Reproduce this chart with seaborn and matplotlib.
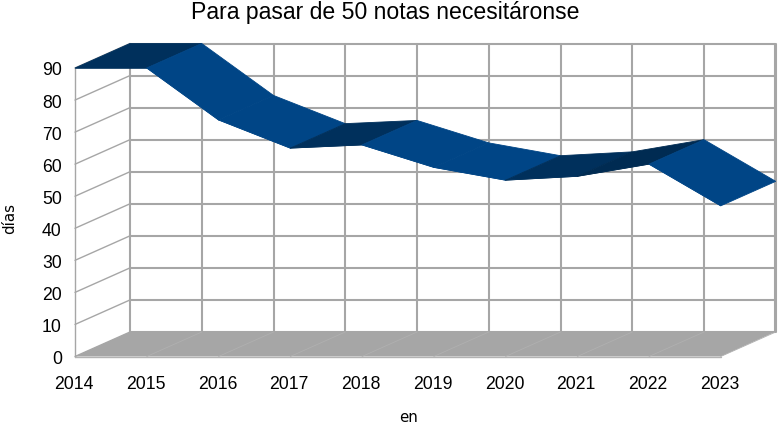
import matplotlib
matplotlib.use("Agg")
import matplotlib.pyplot as plt
from matplotlib.transforms import ScaledTranslation
import pandas as pd
import seaborn as sns

years = ["2014", "2015", "2016", "2017", "2018", "2019", "2020", "2021", "2022", "2023"]
days = [90, 90, 73.8, 65, 66, 59, 55, 56.2, 60, 47]
y_ticks = [0, 10, 20, 30, 40, 50, 60, 70, 80, 90]

sns.set_theme(style="white")
plt.rcParams["font.family"] = ["Liberation Sans", "DejaVu Sans"]

W, H = 782, 430
fig = plt.figure(figsize=(W / 100, H / 100), dpi=100)
# axes box runs from the front-left floor corner to the back-right top corner
left, right, bottom, top = 75, 775, 356.5, 44
ax = fig.add_axes([left / W, 1 - bottom / H, (right - left) / W, (bottom - top) / H])

px_x = 71.75  # pixels per category
px_y = (356.5 - 68) / 90  # pixels per day
dx = 55 / px_x  # depth of the 3d box in data units
dy = 24.5 / px_y
xmax = (right - left) / px_x
ymax = (bottom - top) / px_y
ax.set_xlim(0, xmax)
ax.set_ylim(0, ymax)

grid = "#a6a6a6"
n = len(years)

# back wall
for t in y_ticks:
    ax.plot([dx, xmax], [t + dy, t + dy], color=grid, lw=1.5, zorder=1, clip_on=False)
    ax.plot([0, dx], [t, t + dy], color=grid, lw=1.0, zorder=1, clip_on=False)
for i in range(n):
    ax.plot([i + dx, i + dx], [dy, 90 + dy], color=grid, lw=1.5, zorder=1, clip_on=False)
ax.plot([xmax, xmax], [dy, 90 + dy], color=grid, lw=1.5, zorder=1, clip_on=False)
ax.plot([0, 0], [0, 90], color=grid, lw=1.0, zorder=1, clip_on=False)

# floor
ax.fill([0, n - 1, xmax, dx], [0, 0, dy, dy], color="#a6a6a6", lw=0, zorder=2)
for i in range(1, n):
    ax.plot([i, i + dx], [0, dy], color="#b0b0b0", lw=0.6, zorder=2)
ax.plot([0, n - 1], [0, 0], color="#b3b3b3", lw=1.0, zorder=2, clip_on=False)

# ribbon, one face per year step, darker when the face rises
df = pd.DataFrame({"pos": range(n), "days": days})
for i in range(n - 1):
    v0, v1 = days[i], days[i + 1]
    diff = v1 - v0
    if diff >= 2:
        c = "#002b52"
    elif diff >= 0:
        c = "#00305c"
    else:
        c = "#004586"
    z = 3 + i
    ax.fill([i, i + 1, i + 1 + dx, i + dx], [v0, v1, v1 + dy, v0 + dy], color=c, lw=0.6, zorder=z, clip_on=False)
    sns.lineplot(data=df.iloc[i:i + 2], x="pos", y="days", color=c, lw=0.5, ax=ax, zorder=z, errorbar=None)

ax.set_xlim(0, xmax)
ax.set_ylim(0, ymax)
sns.despine(ax=ax, left=True, bottom=True, top=True, right=True)
ax.set_xticks(range(n), years, fontsize=12.7, color="black")
ax.set_yticks(y_ticks, [str(t) for t in y_ticks], fontsize=12.7, color="black")
ax.tick_params(axis="x", length=0, pad=14)
ax.tick_params(axis="y", length=0, pad=9.5)
# small nudges so the labels land where the original has them
shift_y = ScaledTranslation(0, -0.7 / 72, fig.dpi_scale_trans)
for lab in ax.get_yticklabels():
    lab.set_transform(lab.get_transform() + shift_y)
shift_x = ScaledTranslation(-0.7 / 72, 0, fig.dpi_scale_trans)
for lab in ax.get_xticklabels():
    lab.set_transform(lab.get_transform() + shift_x)
ax.set_xlabel("")
ax.set_ylabel("")

fig.text(385 / W, 1 - 13 / H, "Para pasar de 50 notas necesitáronse", ha="center", va="center", fontsize=16.6, color="black")
fig.text(10 / W, 1 - 218 / H, "días", rotation=90, ha="center", va="center", fontsize=10.8, color="black", family="DejaVu Sans")
fig.text(409 / W, 1 - 417 / H, "en", ha="center", va="center", fontsize=10.8, color="black", family="DejaVu Sans")

fig.savefig("out.png", dpi=100)
